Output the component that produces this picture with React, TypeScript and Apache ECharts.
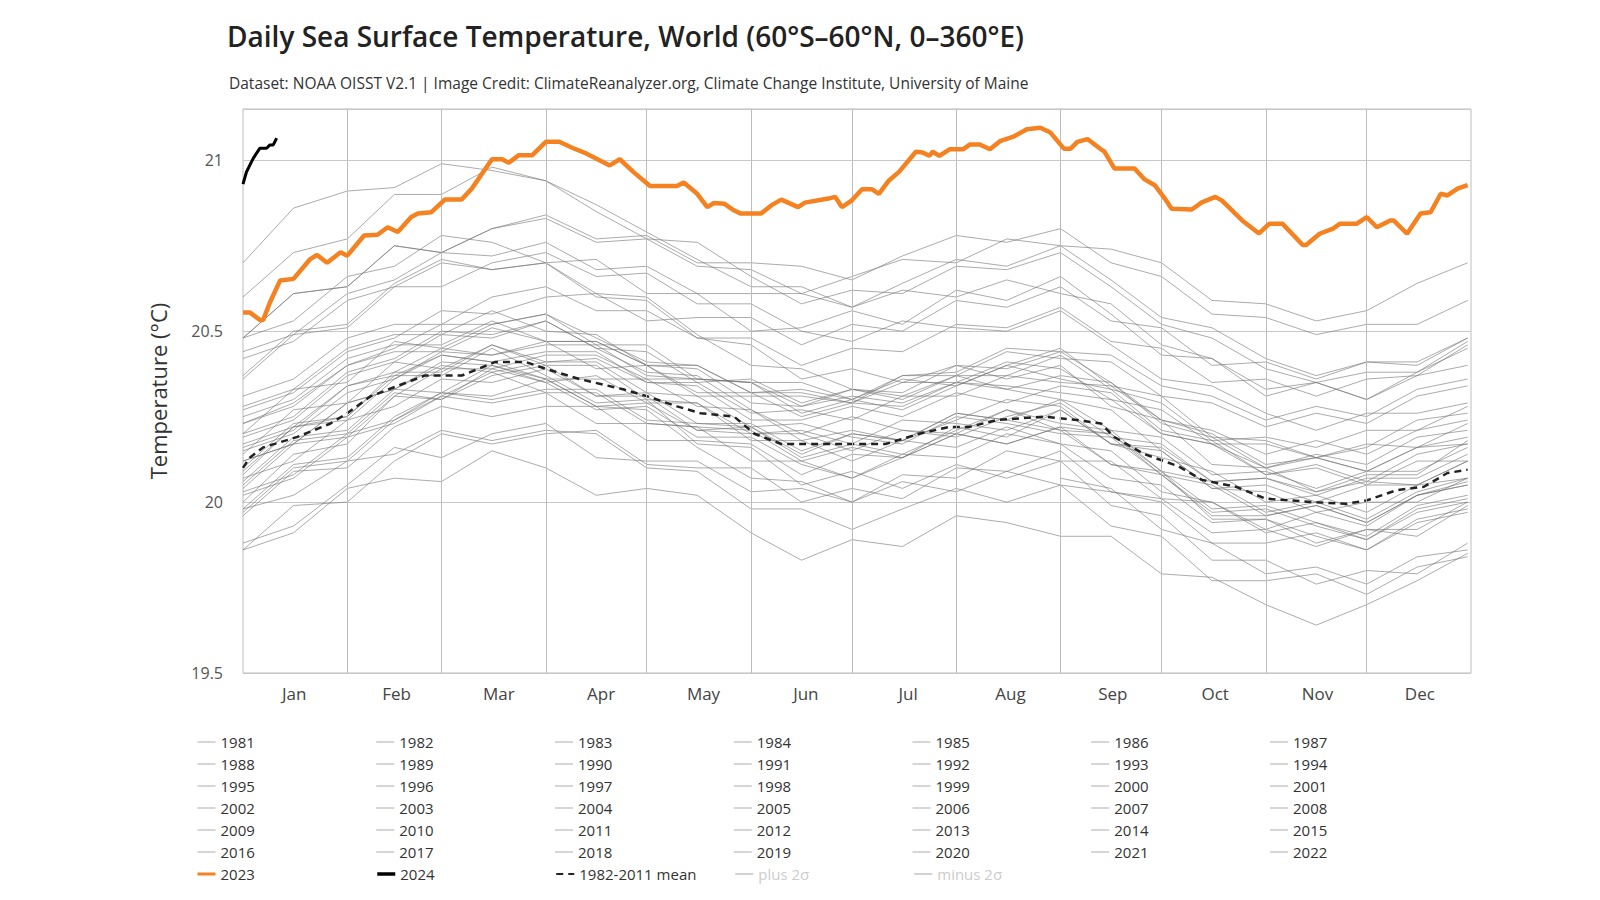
import React, { useEffect, useRef } from 'react';
import * as echarts from 'echarts';

const titleText = 'Daily Sea Surface Temperature, World (60°S–60°N, 0–360°E)';
const subtitleText = 'Dataset: NOAA OISST V2.1 | Image Credit: ClimateReanalyzer.org, Climate Change Institute, University of Maine';
const yAxisTitle = 'Temperature (°C)';

const monthNames = ['Jan', 'Feb', 'Mar', 'Apr', 'May', 'Jun', 'Jul', 'Aug', 'Sep', 'Oct', 'Nov', 'Dec'];
const monthStarts = [31, 59, 90, 120, 151, 181, 212, 243, 273, 304, 334];

// sample days (day of year) for the historical gray years
const sampleDays = [0, 15, 31, 45, 59, 74, 90, 105, 120, 135, 151, 166, 181, 196, 212, 227, 243, 258, 273, 288, 304, 319, 334, 349, 364];

const v1981 = [null, null, null, null, null, null, null, null, null, null, null, null, null, null, null, null, 20.07, 20.04, 19.92, 19.88, 19.79, 19.81, 19.76, 19.84, 19.86];
const v1982 = [19.96, 20.09, 20.10, 20.22, 20.28, 20.25, 20.28, 20.28, 20.18, 20.18, 20.17, 20.08, 20.14, 20.13, 20.22, 20.19, 20.27, 20.17, 20.16, 20.06, 20.07, 20.03, 20.08, 20.08, 20.18];
const v1983 = [20.20, 20.25, 20.38, 20.42, 20.50, 20.49, 20.53, 20.45, 20.38, 20.37, 20.27, 20.20, 20.25, 20.21, 20.20, 20.27, 20.21, 20.11, 20.09, 19.95, 19.95, 19.88, 19.92, 19.90, 19.99];
const v1984 = [19.98, 20.02, 20.12, 20.14, 20.21, 20.18, 20.21, 20.20, 20.10, 20.09, 19.98, 19.98, 19.92, 19.98, 20.04, 20.00, 20.05, 19.93, 19.90, 19.77, 19.77, 19.79, 19.73, 19.81, 19.84];
const v1985 = [19.86, 19.91, 20.04, 20.07, 20.06, 20.15, 20.10, 20.02, 20.04, 20.02, 19.91, 19.83, 19.89, 19.87, 19.96, 19.94, 19.90, 19.90, 19.79, 19.78, 19.70, 19.64, 19.70, 19.77, 19.85];
const v1986 = [19.88, 19.93, 20.05, 20.16, 20.13, 20.20, 20.23, 20.13, 20.12, 20.12, 20.03, 20.04, 20.00, 20.08, 20.07, 20.15, 20.12, 20.12, 20.01, 20.00, 19.92, 19.97, 19.93, 20.02, 20.05];
const v1987 = [20.08, 20.22, 20.25, 20.38, 20.45, 20.43, 20.46, 20.46, 20.37, 20.36, 20.35, 20.26, 20.30, 20.27, 20.34, 20.40, 20.36, 20.33, 20.21, 20.18, 20.08, 20.10, 20.05, 20.12, 20.12];
const v1988 = [20.16, 20.21, 20.34, 20.37, 20.37, 20.45, 20.37, 20.29, 20.30, 20.17, 20.16, 20.05, 20.09, 20.04, 20.11, 20.07, 20.12, 19.99, 19.96, 19.83, 19.83, 19.76, 19.80, 19.79, 19.88];
const v1989 = [19.86, 19.99, 20.00, 20.12, 20.20, 20.17, 20.20, 20.21, 20.11, 20.10, 20.10, 20.00, 20.04, 20.01, 20.10, 20.09, 20.15, 20.03, 20.01, 19.91, 19.92, 19.87, 19.92, 19.92, 20.00];
const v1990 = [20.00, 20.14, 20.17, 20.31, 20.30, 20.39, 20.35, 20.37, 20.29, 20.29, 20.20, 20.21, 20.17, 20.24, 20.23, 20.21, 20.27, 20.17, 20.15, 20.04, 20.05, 20.00, 20.05, 20.05, 20.12];
const v1991 = [20.12, 20.17, 20.29, 20.33, 20.41, 20.40, 20.36, 20.36, 20.36, 20.28, 20.27, 20.18, 20.21, 20.18, 20.24, 20.30, 20.28, 20.17, 20.13, 20.09, 20.00, 20.02, 19.97, 20.05, 20.07];
const v1992 = [20.10, 20.23, 20.25, 20.37, 20.43, 20.41, 20.36, 20.28, 20.27, 20.16, 20.07, 20.06, 20.00, 20.06, 20.03, 20.09, 20.05, 20.03, 20.00, 19.88, 19.88, 19.91, 19.86, 19.94, 19.97];
const v1993 = [19.97, 20.10, 20.12, 20.24, 20.31, 20.29, 20.32, 20.23, 20.23, 20.22, 20.12, 20.12, 20.07, 20.13, 20.20, 20.17, 20.22, 20.11, 20.08, 19.96, 19.96, 19.99, 19.94, 20.02, 20.05];
const v1994 = [20.05, 20.18, 20.20, 20.32, 20.30, 20.37, 20.40, 20.31, 20.31, 20.21, 20.20, 20.20, 20.15, 20.21, 20.19, 20.25, 20.29, 20.19, 20.17, 20.06, 20.07, 20.02, 20.07, 20.07, 20.14];
const v1995 = [20.14, 20.27, 20.29, 20.41, 20.39, 20.46, 20.40, 20.40, 20.30, 20.29, 20.18, 20.18, 20.12, 20.18, 20.16, 20.22, 20.17, 20.15, 20.03, 20.00, 19.91, 19.94, 19.89, 19.97, 20.00];
const v1996 = [20.02, 20.07, 20.19, 20.23, 20.31, 20.38, 20.32, 20.32, 20.23, 20.22, 20.21, 20.12, 20.16, 20.13, 20.20, 20.17, 20.22, 20.20, 20.08, 20.05, 19.96, 19.99, 19.94, 20.02, 20.06];
const v1997 = [20.06, 20.19, 20.21, 20.33, 20.40, 20.38, 20.41, 20.41, 20.32, 20.31, 20.31, 20.31, 20.29, 20.37, 20.38, 20.45, 20.44, 20.43, 20.34, 20.31, 20.24, 20.28, 20.25, 20.33, 20.36];
const v1998 = [20.37, 20.50, 20.52, 20.64, 20.71, 20.68, 20.70, 20.60, 20.59, 20.48, 20.46, 20.36, 20.39, 20.35, 20.40, 20.36, 20.40, 20.28, 20.24, 20.11, 20.10, 20.03, 20.06, 20.05, 20.12];
const v1999 = [20.12, 20.17, 20.29, 20.33, 20.32, 20.40, 20.35, 20.27, 20.28, 20.19, 20.19, 20.11, 20.07, 20.14, 20.13, 20.20, 20.17, 20.07, 20.05, 19.94, 19.95, 19.90, 19.86, 19.95, 19.98];
const v2000 = [19.98, 20.11, 20.13, 20.25, 20.32, 20.30, 20.33, 20.33, 20.24, 20.23, 20.22, 20.13, 20.17, 20.14, 20.21, 20.27, 20.23, 20.21, 20.09, 20.06, 19.97, 20.00, 19.95, 20.03, 20.07];
const v2001 = [20.09, 20.22, 20.24, 20.36, 20.43, 20.41, 20.44, 20.44, 20.35, 20.34, 20.24, 20.24, 20.28, 20.25, 20.32, 20.29, 20.34, 20.32, 20.20, 20.17, 20.08, 20.11, 20.06, 20.14, 20.17];
const v2002 = [20.19, 20.24, 20.37, 20.41, 20.49, 20.48, 20.53, 20.45, 20.44, 20.35, 20.36, 20.29, 20.33, 20.30, 20.37, 20.37, 20.43, 20.33, 20.29, 20.18, 20.19, 20.16, 20.21, 20.21, 20.28];
const v2003 = [20.28, 20.33, 20.45, 20.49, 20.49, 20.56, 20.50, 20.49, 20.40, 20.39, 20.29, 20.28, 20.31, 20.29, 20.35, 20.33, 20.37, 20.35, 20.23, 20.19, 20.10, 20.13, 20.17, 20.16, 20.23];
const v2004 = [20.23, 20.28, 20.40, 20.44, 20.44, 20.51, 20.47, 20.47, 20.40, 20.32, 20.32, 20.25, 20.29, 20.28, 20.35, 20.34, 20.32, 20.30, 20.20, 20.17, 20.10, 20.14, 20.11, 20.19, 20.21];
const v2005 = [20.23, 20.29, 20.40, 20.45, 20.52, 20.52, 20.55, 20.48, 20.41, 20.40, 20.32, 20.32, 20.29, 20.35, 20.35, 20.41, 20.39, 20.30, 20.27, 20.17, 20.17, 20.13, 20.09, 20.16, 20.17];
const v2006 = [20.17, 20.22, 20.34, 20.38, 20.38, 20.46, 20.41, 20.42, 20.35, 20.35, 20.26, 20.27, 20.24, 20.31, 20.31, 20.37, 20.35, 20.34, 20.24, 20.21, 20.14, 20.18, 20.14, 20.21, 20.24];
const v2007 = [20.25, 20.30, 20.42, 20.46, 20.46, 20.53, 20.47, 20.39, 20.40, 20.31, 20.22, 20.23, 20.19, 20.17, 20.25, 20.23, 20.20, 20.19, 20.08, 19.97, 19.98, 19.93, 19.89, 19.98, 20.01];
const v2008 = [20.03, 20.08, 20.20, 20.24, 20.32, 20.31, 20.36, 20.28, 20.29, 20.21, 20.22, 20.14, 20.20, 20.18, 20.26, 20.24, 20.30, 20.21, 20.19, 20.08, 20.09, 20.04, 20.09, 20.09, 20.16];
const v2009 = [20.15, 20.20, 20.32, 20.36, 20.44, 20.43, 20.47, 20.47, 20.40, 20.40, 20.32, 20.33, 20.30, 20.37, 20.37, 20.44, 20.42, 20.41, 20.31, 20.29, 20.22, 20.26, 20.23, 20.31, 20.34];
const v2010 = [20.36, 20.49, 20.51, 20.63, 20.70, 20.68, 20.70, 20.61, 20.60, 20.49, 20.40, 20.39, 20.33, 20.31, 20.37, 20.33, 20.30, 20.27, 20.15, 20.04, 20.03, 19.97, 20.00, 20.00, 20.07];
const v2011 = [20.07, 20.12, 20.24, 20.28, 20.36, 20.35, 20.39, 20.31, 20.32, 20.23, 20.23, 20.15, 20.20, 20.18, 20.26, 20.24, 20.21, 20.20, 20.09, 19.98, 19.99, 19.94, 19.90, 19.99, 20.02];
const v2012 = [20.04, 20.17, 20.19, 20.31, 20.39, 20.39, 20.43, 20.43, 20.36, 20.36, 20.35, 20.28, 20.33, 20.32, 20.40, 20.39, 20.44, 20.35, 20.24, 20.20, 20.11, 20.13, 20.09, 20.16, 20.19];
const v2013 = [20.20, 20.33, 20.35, 20.47, 20.45, 20.52, 20.55, 20.46, 20.46, 20.36, 20.35, 20.35, 20.30, 20.36, 20.34, 20.40, 20.45, 20.34, 20.31, 20.19, 20.18, 20.13, 20.16, 20.24, 20.26];
const v2014 = [20.27, 20.32, 20.44, 20.48, 20.56, 20.55, 20.60, 20.61, 20.53, 20.54, 20.54, 20.46, 20.52, 20.50, 20.59, 20.57, 20.63, 20.53, 20.51, 20.40, 20.41, 20.36, 20.41, 20.41, 20.48];
const v2015 = [20.48, 20.61, 20.63, 20.75, 20.73, 20.80, 20.83, 20.76, 20.77, 20.69, 20.68, 20.61, 20.66, 20.71, 20.70, 20.77, 20.75, 20.74, 20.70, 20.59, 20.58, 20.53, 20.56, 20.64, 20.70];
const v2016 = [20.70, 20.86, 20.91, 20.92, 20.99, 20.97, 20.94, 20.87, 20.79, 20.71, 20.63, 20.63, 20.57, 20.62, 20.60, 20.65, 20.61, 20.58, 20.46, 20.42, 20.33, 20.35, 20.30, 20.37, 20.40];
const v2017 = [20.42, 20.47, 20.59, 20.63, 20.63, 20.70, 20.73, 20.66, 20.67, 20.58, 20.58, 20.50, 20.47, 20.53, 20.51, 20.50, 20.56, 20.46, 20.36, 20.34, 20.26, 20.21, 20.26, 20.26, 20.29];
const v2018 = [20.31, 20.36, 20.48, 20.52, 20.52, 20.60, 20.63, 20.56, 20.56, 20.48, 20.48, 20.40, 20.45, 20.44, 20.52, 20.51, 20.57, 20.47, 20.45, 20.35, 20.36, 20.31, 20.36, 20.37, 20.46];
const v2019 = [20.48, 20.61, 20.63, 20.75, 20.73, 20.80, 20.84, 20.77, 20.78, 20.70, 20.70, 20.69, 20.65, 20.72, 20.78, 20.76, 20.80, 20.70, 20.66, 20.55, 20.54, 20.49, 20.52, 20.52, 20.59];
const v2020 = [20.60, 20.73, 20.77, 20.90, 20.90, 20.98, 20.94, 20.85, 20.77, 20.76, 20.66, 20.58, 20.62, 20.61, 20.69, 20.68, 20.73, 20.63, 20.52, 20.48, 20.39, 20.35, 20.38, 20.38, 20.45];
const v2021 = [20.44, 20.49, 20.61, 20.65, 20.73, 20.72, 20.76, 20.68, 20.69, 20.61, 20.61, 20.61, 20.57, 20.64, 20.71, 20.69, 20.75, 20.65, 20.54, 20.51, 20.42, 20.37, 20.41, 20.40, 20.48];
const v2022 = [20.48, 20.53, 20.66, 20.69, 20.78, 20.76, 20.70, 20.71, 20.61, 20.61, 20.50, 20.51, 20.56, 20.52, 20.62, 20.59, 20.66, 20.55, 20.43, 20.42, 20.31, 20.35, 20.30, 20.38, 20.47];

const grayYears: [string, (number | null)[]][] = [
  ['1981', v1981], ['1982', v1982], ['1983', v1983], ['1984', v1984], ['1985', v1985], ['1986', v1986], ['1987', v1987],
  ['1988', v1988], ['1989', v1989], ['1990', v1990], ['1991', v1991], ['1992', v1992], ['1993', v1993], ['1994', v1994],
  ['1995', v1995], ['1996', v1996], ['1997', v1997], ['1998', v1998], ['1999', v1999], ['2000', v2000], ['2001', v2001],
  ['2002', v2002], ['2003', v2003], ['2004', v2004], ['2005', v2005], ['2006', v2006], ['2007', v2007], ['2008', v2008],
  ['2009', v2009], ['2010', v2010], ['2011', v2011], ['2012', v2012], ['2013', v2013], ['2014', v2014], ['2015', v2015],
  ['2016', v2016], ['2017', v2017], ['2018', v2018], ['2019', v2019], ['2020', v2020], ['2021', v2021], ['2022', v2022],
];

const days2023 = [0, 2, 5, 6, 8, 11, 15, 20, 22, 25, 29, 31, 36, 40, 43, 46, 50, 52, 56, 60, 65, 68, 74, 77, 79, 82, 86, 90, 94, 98, 102, 109, 112, 116, 121, 129, 131, 135, 138, 140, 143, 146, 148, 154, 157, 160, 165, 167, 174, 176, 178, 181, 184, 187, 189, 192, 195, 200, 202, 204, 205, 207, 210, 214, 216, 219, 222, 225, 229, 233, 237, 240, 244, 246, 248, 251, 255, 256, 259, 265, 268, 271, 274, 276, 282, 285, 289, 291, 297, 302, 305, 309, 315, 316, 320, 324, 326, 331, 334, 337, 341, 342, 346, 350, 353, 356, 358, 361, 364];
const temp2023 = [20.555, 20.555, 20.533, 20.533, 20.584, 20.648, 20.653, 20.711, 20.723, 20.70, 20.731, 20.721, 20.78, 20.782, 20.804, 20.79, 20.834, 20.844, 20.848, 20.885, 20.885, 20.917, 21.003, 21.003, 20.993, 21.015, 21.015, 21.054, 21.054, 21.036, 21.02, 20.985, 21.003, 20.966, 20.925, 20.925, 20.935, 20.902, 20.863, 20.875, 20.873, 20.853, 20.844, 20.844, 20.868, 20.885, 20.863, 20.876, 20.888, 20.893, 20.863, 20.883, 20.915, 20.915, 20.902, 20.941, 20.966, 21.025, 21.023, 21.013, 21.025, 21.013, 21.032, 21.032, 21.046, 21.046, 21.032, 21.056, 21.069, 21.091, 21.095, 21.081, 21.034, 21.034, 21.054, 21.062, 21.032, 21.026, 20.976, 20.976, 20.944, 20.927, 20.888, 20.858, 20.856, 20.877, 20.893, 20.882, 20.824, 20.786, 20.814, 20.814, 20.752, 20.752, 20.785, 20.80, 20.814, 20.814, 20.834, 20.804, 20.824, 20.824, 20.785, 20.844, 20.848, 20.902, 20.897, 20.917, 20.927];

const days2024 = [0, 1, 2, 3, 4, 5, 6, 7, 8, 9, 10];
const temp2024 = [20.93, 20.965, 20.985, 21.005, 21.02, 21.035, 21.035, 21.035, 21.045, 21.045, 21.065];

const meanDays = [0, 2, 6, 16, 26, 31, 38, 46, 54, 65, 75, 84, 90, 100, 113, 120, 129, 136, 146, 152, 160, 191, 201, 210, 216, 224, 238, 248, 255, 259, 268, 278, 285, 295, 304, 318, 328, 334, 343, 351, 358, 364];
const meanVals = [20.10, 20.13, 20.16, 20.19, 20.23, 20.26, 20.31, 20.34, 20.37, 20.37, 20.41, 20.41, 20.39, 20.36, 20.33, 20.31, 20.28, 20.26, 20.25, 20.20, 20.17, 20.17, 20.20, 20.22, 20.22, 20.24, 20.25, 20.24, 20.23, 20.19, 20.14, 20.105, 20.065, 20.045, 20.01, 20.00, 19.995, 20.005, 20.035, 20.045, 20.085, 20.095];

const yTicks = [19.5, 20, 20.5, 21];

export default function App() {
  const ref = useRef<HTMLDivElement>(null);
  useEffect(() => {
    if (!ref.current) return;
    const chart = echarts.init(ref.current, null, { renderer: 'svg' });
    const font = "'Open Sans', 'Noto Sans', sans-serif";

    const graySeries = grayYears.map(([name, vals]) => ({
      name,
      type: 'line',
      xAxisIndex: 0,
      data: sampleDays.map((d, i) => [d, vals[i]]),
      symbol: 'none',
      silent: true,
      z: 2,
      lineStyle: { color: 'rgba(115,115,115,0.6)', width: 1 },
      itemStyle: { color: 'rgba(115,115,115,0.6)' },
    }));

    const series: any[] = [
      {
        name: '_grid',
        type: 'line',
        data: [],
        z: 1,
        silent: true,
        markLine: {
          silent: true,
          symbol: ['none', 'none'],
          label: { show: false },
          lineStyle: { color: '#bdbdbd', type: 'solid', width: 1 },
          data: monthStarts.map((d) => ({ xAxis: d })),
        },
      },
      ...graySeries,
      {
        name: '2023',
        type: 'line',
        data: days2023.map((d, i) => [d, temp2023[i]]),
        symbol: 'none',
        z: 5,
        lineStyle: { color: '#f58220', width: 4.5 },
        itemStyle: { color: '#f58220' },
      },
      {
        name: '2024',
        type: 'line',
        data: days2024.map((d, i) => [d, temp2024[i]]),
        symbol: 'none',
        z: 6,
        lineStyle: { color: '#000', width: 3 },
        itemStyle: { color: '#000' },
      },
      {
        name: '1982-2011 mean',
        type: 'line',
        data: meanDays.map((d, i) => [d, meanVals[i]]),
        symbol: 'none',
        z: 4,
        lineStyle: { color: '#222', width: 2.5, type: [7, 5] },
        itemStyle: { color: '#222' },
      },
      {
        name: 'plus 2σ',
        type: 'line',
        data: [],
        symbol: 'none',
        lineStyle: { color: '#999', width: 2, type: [8, 4, 2, 4] },
        itemStyle: { color: '#999' },
      },
      {
        name: 'minus 2σ',
        type: 'line',
        data: [],
        symbol: 'none',
        lineStyle: { color: '#999', width: 2, type: [8, 4, 2, 4] },
        itemStyle: { color: '#999' },
      },
    ];

    const legendData: any[] = [
      ...grayYears.map((g) => ({ name: g[0], lineStyle: { color: '#c8c8c8', width: 1.5 } })),
      { name: '2023', lineStyle: { width: 3 } },
      { name: '2024', lineStyle: { width: 3.5 } },
      { name: '1982-2011 mean', lineStyle: { width: 2 } },
      { name: 'plus 2σ' },
      { name: 'minus 2σ' },
    ];

    chart.setOption({
      animation: false,
      backgroundColor: '#fff',
      title: [
        {
          text: titleText,
          left: 222,
          top: 17,
          textStyle: { fontFamily: font, fontSize: 28, fontWeight: 600, color: '#222' },
        },
        {
          text: subtitleText,
          left: 224,
          top: 70,
          textStyle: { fontFamily: font, fontSize: 15.5, fontWeight: 'normal', color: '#333' },
        },
      ],
      grid: {
        left: 243,
        right: 129,
        top: 109,
        bottom: 227,
        show: true,
        borderColor: '#bdbdbd',
        borderWidth: 1,
      },
      legend: {
        data: legendData,
        left: 196,
        top: 731,
        width: 1380,
        padding: 0,
        itemGap: 0,
        itemWidth: 18,
        itemHeight: 14,
        inactiveColor: '#ccc',
        selected: { 'plus 2σ': false, 'minus 2σ': false },
        itemStyle: { opacity: 0 },
        textStyle: { fontFamily: font, fontSize: 15, color: '#333', width: 155, lineHeight: 22 },
      },
      xAxis: [
        {
          type: 'value',
          min: 0,
          max: 365,
          axisLine: { show: false },
          axisTick: { show: false },
          axisLabel: { show: false },
          splitLine: { show: false },
        },
        {
          type: 'category',
          data: monthNames,
          position: 'bottom',
          boundaryGap: true,
          axisLine: { show: false },
          axisTick: { show: false },
          splitLine: { show: false },
          axisLabel: { fontFamily: font, fontSize: 17, color: '#444', margin: 12 },
        },
      ],
      yAxis: {
        type: 'value',
        min: yTicks[0],
        max: 21.15,
        interval: 0.5,
        name: yAxisTitle,
        nameLocation: 'middle',
        nameGap: 74,
        nameTextStyle: { fontFamily: font, fontSize: 22, color: '#333' },
        axisLine: { show: false },
        axisTick: { show: false },
        axisLabel: {
          fontFamily: font,
          fontSize: 16,
          color: '#555',
          margin: 20,
          showMaxLabel: false,
          formatter: (v: number) => (yTicks.some((t) => Math.abs(t - v) < 1e-6) ? String(v) : ''),
        },
        splitLine: { lineStyle: { color: '#c8c8c8', width: 1 } },
      },
      series,
    });
    return () => chart.dispose();
  }, []);
  return (
    <div
      ref={ref}
      style={{ position: 'fixed', left: 0, top: 0, width: 1600, height: 900, background: '#fff' }}
    />
  );
}
